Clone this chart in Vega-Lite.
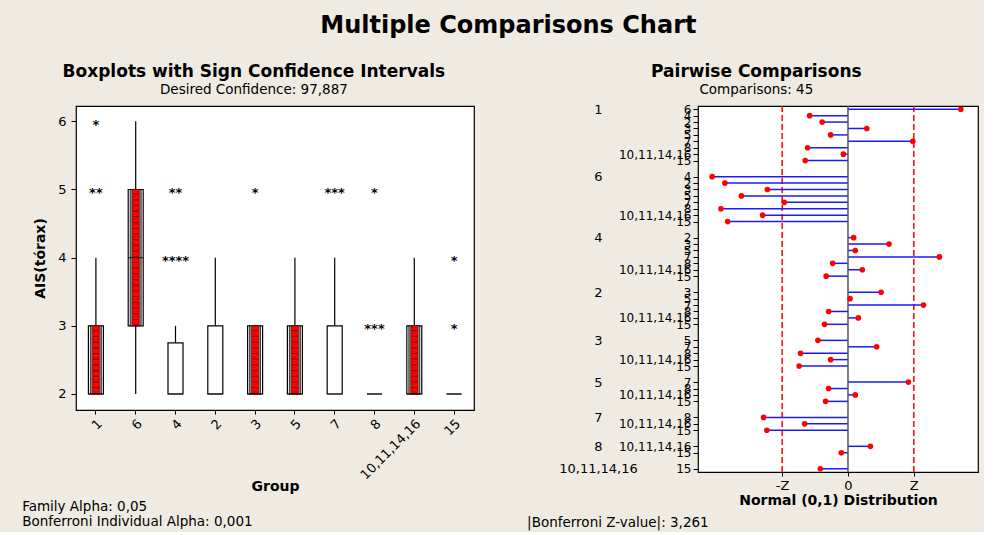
{
  "$schema": "https://vega.github.io/schema/vega-lite/v6.json",
  "padding": {"left": 22, "top": 13, "right": 5, "bottom": 2},
  "title": {"text": "Multiple Comparisons Chart", "fontSize": 24, "fontWeight": "bold", "anchor": "middle", "offset": 24, "dx": 8, "color": "black"},
  "datasets": {
    "boxes": [
      {"group": "1", "lo": 2, "q1": 2, "med": 2, "q3": 3, "hi": 4, "ciLo": 2, "ciHi": 3},
      {"group": "6", "lo": 2, "q1": 3, "med": 4, "q3": 5, "hi": 6, "ciLo": 3, "ciHi": 5},
      {"group": "4", "lo": 2, "q1": 2, "med": 2, "q3": 2.75, "hi": 3, "ciLo": null, "ciHi": null},
      {"group": "2", "lo": 2, "q1": 2, "med": 2, "q3": 3, "hi": 4, "ciLo": null, "ciHi": null},
      {"group": "3", "lo": 2, "q1": 2, "med": 2, "q3": 3, "hi": 3, "ciLo": 2, "ciHi": 3},
      {"group": "5", "lo": 2, "q1": 2, "med": 2, "q3": 3, "hi": 4, "ciLo": 2, "ciHi": 3},
      {"group": "7", "lo": 2, "q1": 2, "med": 2, "q3": 3, "hi": 4, "ciLo": null, "ciHi": null},
      {"group": "8", "lo": 2, "q1": 2, "med": 2, "q3": 2, "hi": 2, "ciLo": null, "ciHi": null},
      {"group": "10,11,14,16", "lo": 2, "q1": 2, "med": 2, "q3": 3, "hi": 4, "ciLo": 2, "ciHi": 3},
      {"group": "15", "lo": 2, "q1": 2, "med": 2, "q3": 2, "hi": 2, "ciLo": null, "ciHi": null}
    ],
    "outliers": [
      {"group": "1", "value": 5}, {"group": "1", "value": 5}, {"group": "1", "value": 6},
      {"group": "4", "value": 4}, {"group": "4", "value": 4}, {"group": "4", "value": 4}, {"group": "4", "value": 4},
      {"group": "4", "value": 5}, {"group": "4", "value": 5},
      {"group": "3", "value": 5},
      {"group": "7", "value": 5}, {"group": "7", "value": 5}, {"group": "7", "value": 5},
      {"group": "8", "value": 3}, {"group": "8", "value": 3}, {"group": "8", "value": 3}, {"group": "8", "value": 5},
      {"group": "15", "value": 3}, {"group": "15", "value": 4}
    ],
    "pairs": [
      {"g1": "1", "g2": "6", "z": 5.59}, {"g1": "1", "g2": "4", "z": -1.90}, {"g1": "1", "g2": "2", "z": -1.28},
      {"g1": "1", "g2": "3", "z": 0.93}, {"g1": "1", "g2": "5", "z": -0.86}, {"g1": "1", "g2": "7", "z": 3.21},
      {"g1": "1", "g2": "8", "z": -2.00}, {"g1": "1", "g2": "10,11,14,16", "z": -0.23}, {"g1": "1", "g2": "15", "z": -2.12},
      {"g1": "6", "g2": "4", "z": -6.73}, {"g1": "6", "g2": "2", "z": -6.10}, {"g1": "6", "g2": "3", "z": -3.99},
      {"g1": "6", "g2": "5", "z": -5.28}, {"g1": "6", "g2": "7", "z": -3.16}, {"g1": "6", "g2": "8", "z": -6.29},
      {"g1": "6", "g2": "10,11,14,16", "z": -4.23}, {"g1": "6", "g2": "15", "z": -5.96},
      {"g1": "4", "g2": "2", "z": 0.28}, {"g1": "4", "g2": "3", "z": 2.03}, {"g1": "4", "g2": "5", "z": 0.36},
      {"g1": "4", "g2": "7", "z": 4.53}, {"g1": "4", "g2": "8", "z": -0.76}, {"g1": "4", "g2": "10,11,14,16", "z": 0.71},
      {"g1": "4", "g2": "15", "z": -1.08},
      {"g1": "2", "g2": "3", "z": 1.64}, {"g1": "2", "g2": "5", "z": 0.10}, {"g1": "2", "g2": "7", "z": 3.74},
      {"g1": "2", "g2": "8", "z": -0.96}, {"g1": "2", "g2": "10,11,14,16", "z": 0.51}, {"g1": "2", "g2": "15", "z": -1.16},
      {"g1": "3", "g2": "5", "z": -1.49}, {"g1": "3", "g2": "7", "z": 1.42}, {"g1": "3", "g2": "8", "z": -2.35},
      {"g1": "3", "g2": "10,11,14,16", "z": -0.86}, {"g1": "3", "g2": "15", "z": -2.42},
      {"g1": "5", "g2": "7", "z": 2.99}, {"g1": "5", "g2": "8", "z": -0.96}, {"g1": "5", "g2": "10,11,14,16", "z": 0.36},
      {"g1": "5", "g2": "15", "z": -1.11},
      {"g1": "7", "g2": "8", "z": -4.18}, {"g1": "7", "g2": "10,11,14,16", "z": -2.15}, {"g1": "7", "g2": "15", "z": -4.02},
      {"g1": "8", "g2": "10,11,14,16", "z": 1.11}, {"g1": "8", "g2": "15", "z": -0.33},
      {"g1": "10,11,14,16", "g2": "15", "z": -1.37}
    ],
    "refs": [
      {"kind": "crit", "z": -3.261}, {"kind": "crit", "z": 3.261}, {"kind": "zero", "z": 0}
    ]
  },
  "spacing": 52,
  "hconcat": [
    {
      "title": {"text": ["Family Alpha: 0,05", "Bonferroni Individual Alpha: 0,001"], "orient": "bottom", "anchor": "start", "fontSize": 13.5, "fontWeight": "normal", "offset": 6, "dx": -11, "lineHeight": 15, "color": "black"},
      "vconcat": [
        {
          "width": 398,
          "height": 304,
          "title": {"text": "Boxplots with Sign Confidence Intervals", "subtitle": "Desired Confidence: 97,887", "fontSize": 17, "fontWeight": "bold", "subtitleFontSize": 13.5, "subtitleColor": "black", "subtitlePadding": 2, "anchor": "middle", "frame": "bounds", "offset": 9, "color": "black"},
          "encoding": {
            "x": {"field": "group", "type": "nominal", "sort": ["1", "6", "4", "2", "3", "5", "7", "8", "10,11,14,16", "15"], "scale": {"paddingInner": 0, "paddingOuter": 0}, "axis": {"labelAngle": -45, "title": "Group", "tickSize": 4, "labelPadding": 3, "labelFontSize": 13, "titleFontSize": 14, "titlePadding": -2}}
          },
          "layer": [
            {
              "data": {"name": "boxes"},
              "mark": {"type": "rule", "color": "black", "strokeWidth": 1.2},
              "encoding": {
                "y": {"field": "lo", "type": "quantitative", "scale": {"domain": [1.765, 6.225], "nice": false, "zero": false}, "axis": {"values": [2, 3, 4, 5, 6], "format": "d", "title": "AIS(tórax)", "tickSize": 5, "labelPadding": 5, "labelFontSize": 13, "titleFontSize": 14, "titlePadding": 10}},
                "y2": {"field": "hi"}
              }
            },
            {
              "data": {"name": "boxes"},
              "mark": {"type": "bar", "width": 15, "fill": "white", "stroke": "black", "strokeWidth": 1.2},
              "encoding": {
                "y": {"field": "q1", "type": "quantitative", "scale": {"domain": [1.765, 6.225], "nice": false, "zero": false}, "title": "AIS(tórax)"},
                "y2": {"field": "q3"}
              }
            },
            {
              "data": {"name": "boxes"},
              "mark": {"type": "bar", "width": 11, "fill": "#8c8c8c", "stroke": "black", "strokeWidth": 0.7},
              "encoding": {
                "y": {"field": "ciLo", "type": "quantitative", "scale": {"domain": [1.765, 6.225], "nice": false, "zero": false}, "title": "AIS(tórax)"},
                "y2": {"field": "ciHi"}
              }
            },
            {
              "data": {"name": "boxes"},
              "mark": {"type": "bar", "width": 7, "fill": "#ff0000", "stroke": "#550000", "strokeWidth": 0.5},
              "encoding": {
                "y": {"field": "ciLo", "type": "quantitative", "scale": {"domain": [1.765, 6.225], "nice": false, "zero": false}, "title": "AIS(tórax)"},
                "y2": {"field": "ciHi"}
              }
            },
            {
              "data": {"name": "boxes"},
              "mark": {"type": "rule", "color": "#3a0000", "strokeWidth": 5, "strokeDash": [1.2, 4.5], "opacity": 0.7},
              "encoding": {
                "y": {"field": "ciLo", "type": "quantitative", "scale": {"domain": [1.765, 6.225], "nice": false, "zero": false}, "title": "AIS(tórax)"},
                "y2": {"field": "ciHi"}
              }
            },
            {
              "data": {"name": "boxes"},
              "mark": {"type": "tick", "color": "black", "size": 15, "thickness": 1.2, "orient": "horizontal"},
              "encoding": {
                "y": {"field": "med", "type": "quantitative", "scale": {"domain": [1.765, 6.225], "nice": false, "zero": false}, "title": "AIS(tórax)"}
              }
            },
            {
              "data": {"name": "outliers"},
              "transform": [
                {"aggregate": [{"op": "count", "as": "n"}], "groupby": ["group", "value"]},
                {"calculate": "pad('', datum.n, '*')", "as": "stars"}
              ],
              "mark": {"type": "text", "fontSize": 13, "fontWeight": "bold", "baseline": "alphabetic", "dy": 7.5, "color": "black"},
              "encoding": {
                "y": {"field": "value", "type": "quantitative", "scale": {"domain": [1.765, 6.225], "nice": false, "zero": false}, "title": "AIS(tórax)"},
                "text": {"field": "stars"}
              }
            }
          ]
        }
      ]
    },
    {
      "title": {"text": "|Bonferroni Z-value|: 3,261", "orient": "bottom", "anchor": "start", "fontSize": 13.5, "fontWeight": "normal", "offset": 8, "dx": -31, "color": "black"},
      "vconcat": [
        {
          "width": 280,
          "height": 366,
          "title": {"text": "Pairwise Comparisons", "subtitle": "Comparisons: 45", "fontSize": 17, "fontWeight": "bold", "subtitleFontSize": 13.5, "subtitleColor": "black", "subtitlePadding": 2, "anchor": "middle", "frame": "bounds", "offset": 6, "dx": -12, "color": "black"},
          "layer": [
            {
              "data": {"name": "refs"},
              "transform": [{"filter": "datum.kind === 'crit'"}],
              "mark": {"type": "rule", "color": "#ff0000", "strokeDash": [6, 3], "strokeWidth": 1.5},
              "encoding": {
                "x": {"field": "z", "type": "quantitative", "scale": {"domain": [-7.43, 6.44], "nice": false, "zero": false}, "axis": {"values": [-3.261, 0, 3.261], "labelExpr": "datum.value < -1 ? '-Z' : (datum.value > 1 ? 'Z' : '0')", "title": "Normal (0,1) Distribution", "tickSize": 4, "labelPadding": 3, "labelFontSize": 13, "titleFontSize": 14, "titlePadding": 1}}
              }
            },
            {
              "data": {"name": "pairs"},
              "transform": [{"calculate": "datum.g1 + '|' + datum.g2", "as": "key"}],
              "mark": {"type": "rule", "color": "#1a1aff", "strokeWidth": 1.5},
              "encoding": {
                "x": {"field": "z", "type": "quantitative", "scale": {"domain": [-7.43, 6.44], "nice": false, "zero": false}, "title": "Normal (0,1) Distribution"},
                "x2": {"datum": 0},
                "y": {"field": "key", "type": "nominal", "sort": null,
                  "scale": {"type": "point", "padding": 2.45, "domain": ["1|6","_1","1|4","_2","1|2","_3","1|3","_4","1|5","_5","1|7","_6","1|8","_7","1|10,11,14,16","_8","1|15","_9","_10","_11","_12","6|4","_13","6|2","_14","6|3","_15","6|5","_16","6|7","_17","6|8","_18","6|10,11,14,16","_19","6|15","_20","_21","_22","_23","4|2","_24","4|3","_25","4|5","_26","4|7","_27","4|8","_28","4|10,11,14,16","_29","4|15","_30","_31","_32","_33","2|3","_34","2|5","_35","2|7","_36","2|8","_37","2|10,11,14,16","_38","2|15","_39","_40","_41","_42","3|5","_43","3|7","_44","3|8","_45","3|10,11,14,16","_46","3|15","_47","_48","_49","_50","5|7","_51","5|8","_52","5|10,11,14,16","_53","5|15","_54","_55","_56","_57","7|8","_58","7|10,11,14,16","_59","7|15","_60","_61","_62","_63","8|10,11,14,16","_64","8|15","_65","_66","_67","_68","10,11,14,16|15"]},
                  "axis": {"orient": "left", "title": null, "values": ["1|6","1|4","1|2","1|3","1|5","1|7","1|8","1|10,11,14,16","1|15","6|4","6|2","6|3","6|5","6|7","6|8","6|10,11,14,16","6|15","4|2","4|3","4|5","4|7","4|8","4|10,11,14,16","4|15","2|3","2|5","2|7","2|8","2|10,11,14,16","2|15","3|5","3|7","3|8","3|10,11,14,16","3|15","5|7","5|8","5|10,11,14,16","5|15","7|8","7|10,11,14,16","7|15","8|10,11,14,16","8|15","10,11,14,16|15"], "labelExpr": "split(datum.value, '|')[1]", "tickSize": 5, "labelPadding": 2, "labelOverlap": false}
                }
              }
            },
            {
              "data": {"name": "refs"},
              "transform": [{"filter": "datum.kind === 'zero'"}],
              "mark": {"type": "rule", "color": "#555555", "strokeWidth": 1.5},
              "encoding": {
                "x": {"field": "z", "type": "quantitative", "scale": {"domain": [-7.43, 6.44], "nice": false, "zero": false}, "title": "Normal (0,1) Distribution"}
              }
            },
            {
              "data": {"name": "pairs"},
              "transform": [{"calculate": "datum.g1 + '|' + datum.g2", "as": "key"}],
              "mark": {"type": "circle", "color": "#ff0000", "size": 32, "opacity": 1},
              "encoding": {
                "x": {"field": "z", "type": "quantitative", "scale": {"domain": [-7.43, 6.44], "nice": false, "zero": false}, "title": "Normal (0,1) Distribution"},
                "y": {"field": "key", "type": "nominal", "sort": null,
                  "scale": {"type": "point", "padding": 2.45, "domain": ["1|6","_1","1|4","_2","1|2","_3","1|3","_4","1|5","_5","1|7","_6","1|8","_7","1|10,11,14,16","_8","1|15","_9","_10","_11","_12","6|4","_13","6|2","_14","6|3","_15","6|5","_16","6|7","_17","6|8","_18","6|10,11,14,16","_19","6|15","_20","_21","_22","_23","4|2","_24","4|3","_25","4|5","_26","4|7","_27","4|8","_28","4|10,11,14,16","_29","4|15","_30","_31","_32","_33","2|3","_34","2|5","_35","2|7","_36","2|8","_37","2|10,11,14,16","_38","2|15","_39","_40","_41","_42","3|5","_43","3|7","_44","3|8","_45","3|10,11,14,16","_46","3|15","_47","_48","_49","_50","5|7","_51","5|8","_52","5|10,11,14,16","_53","5|15","_54","_55","_56","_57","7|8","_58","7|10,11,14,16","_59","7|15","_60","_61","_62","_63","8|10,11,14,16","_64","8|15","_65","_66","_67","_68","10,11,14,16|15"]},
                  "axis": {"orient": "left", "title": null, "values": ["1|6","6|4","4|2","2|3","3|5","5|7","7|8","8|10,11,14,16","10,11,14,16|15"], "labelExpr": "split(datum.value, '|')[0]", "ticks": false, "domain": false, "offset": 80, "labelAlign": "center", "labelPadding": 20, "labelOverlap": false, "labelFontSize": 13}
                }
              }
            }
          ],
          "resolve": {"scale": {"y": "independent"}, "axis": {"y": "independent"}}
        }
      ]
    }
  ],
  "config": {
    "background": "#EFEBE2",
    "font": "DejaVu Sans",
    "view": {"stroke": "black", "strokeWidth": 1.2, "fill": "white"},
    "axis": {"grid": false, "domain": false, "tickColor": "black", "labelColor": "black", "titleColor": "black", "labelFontSize": 12, "titleFontSize": 13, "titleFontWeight": "bold", "labelFont": "DejaVu Sans", "titleFont": "DejaVu Sans"},
    "title": {"font": "DejaVu Sans", "subtitleFont": "DejaVu Sans"}
  }
}
